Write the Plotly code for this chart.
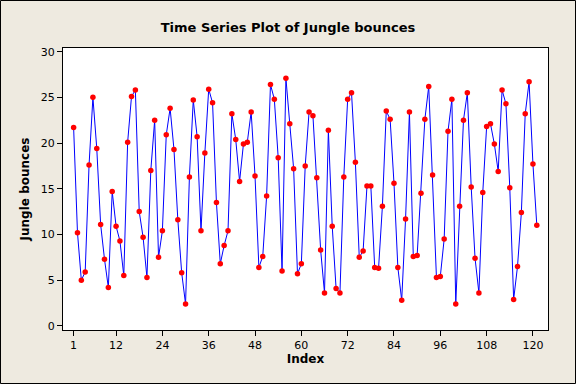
import plotly.graph_objects as go

index = list(range(1, 122))
bounces = [
    21.7, 10.2, 5.0, 5.9, 17.6, 25.0, 19.4, 11.1, 7.3, 4.2,
    14.7, 10.9, 9.3, 5.5, 20.1, 25.1, 25.8, 12.5, 9.7, 5.3,
    17.0, 22.5, 7.5, 10.4, 20.9, 23.8, 19.3, 11.6, 5.8, 2.4,
    16.3, 24.7, 20.7, 10.4, 18.9, 25.9, 24.4, 13.5, 6.8, 8.8,
    10.4, 23.2, 20.4, 15.8, 19.9, 20.1, 23.4, 16.4, 6.4, 7.6,
    14.2, 26.4, 24.8, 18.4, 6.0, 27.1, 22.1, 17.2, 5.7, 6.8,
    17.5, 23.4, 23.0, 16.2, 8.3, 3.6, 21.4, 10.9, 4.1, 3.6,
    16.3, 24.8, 25.5, 17.9, 7.5, 8.2, 15.3, 15.3, 6.4, 6.3,
    13.1, 23.5, 22.6, 15.6, 6.4, 2.8, 11.7, 23.4, 7.6, 7.7,
    14.5, 22.6, 26.2, 16.5, 5.3, 5.4, 9.5, 21.3, 24.8, 2.4,
    13.1, 22.5, 25.5, 15.2, 7.4, 3.6, 14.6, 21.8, 22.1, 19.9,
    16.9, 25.8, 24.3, 15.1, 2.9, 6.5, 12.4, 23.2, 26.7, 17.7,
    11.0,
]
x_ticks = [1, 12, 24, 36, 48, 60, 72, 84, 96, 108, 120]
y_ticks = [0, 5, 10, 15, 20, 25, 30]

ml, mr, mt, mb = 63, 28, 48, 54
W, H = 576, 384
pw, ph = W - ml - mr, H - mt - mb

fig = go.Figure()
fig.add_trace(go.Scatter(
    x=index, y=bounces, mode="lines+markers",
    line=dict(color="#0000FF", width=1),
    marker=dict(color="#FF0000", size=5.5, line=dict(width=0)),
    showlegend=False,
))

font_family = "DejaVu Sans, Verdana, sans-serif"
fig.update_layout(
    width=W, height=H,
    margin=dict(l=ml, r=mr, t=mt, b=mb, autoexpand=False),
    paper_bgcolor="#EEEAE0",
    plot_bgcolor="#FFFFFF",
    font=dict(family=font_family, size=11, color="#000000"),
    title=dict(text="<b>Time Series Plot of Jungle bounces</b>",
               x=0.5, xanchor="center", y=1 - 27 / H, yanchor="middle",
               xref="container", yref="container",
               font=dict(family=font_family, size=13, color="#000000")),
    xaxis=dict(
        range=[-1.75, 123.9], tickvals=x_ticks, automargin=False,
        showgrid=False, zeroline=False,
        showline=True, linecolor="#000000", linewidth=1, mirror=True,
        ticks="outside", ticklen=5, tickcolor="#000000",
        tickfont=dict(size=11),
        title=dict(text="<b>Index</b>", font=dict(size=12), standoff=2),
    ),
    yaxis=dict(
        range=[-0.45, 30.4], tickvals=y_ticks, automargin=False,
        showgrid=False, zeroline=False,
        showline=True, linecolor="#000000", linewidth=1, mirror=True,
        ticks="outside", ticklen=5, tickcolor="#000000",
        tickfont=dict(size=11),
        title=dict(text="<b>Jungle bounces</b>", font=dict(size=12), standoff=8),
    ),
)

fig.add_shape(
    type="rect", xref="paper", yref="paper",
    x0=-(ml - 0.5) / pw, x1=1 + (mr - 0.5) / pw,
    y0=-(mb - 0.5) / ph, y1=1 + (mt - 0.5) / ph,
    line=dict(color="#000000", width=1), fillcolor="rgba(0,0,0,0)",
    layer="below",
)

fig.write_html(
    "out.html",
    config={"displayModeBar": False},
    post_script="document.body.style.margin='0';document.body.style.overflow='hidden';",
)
